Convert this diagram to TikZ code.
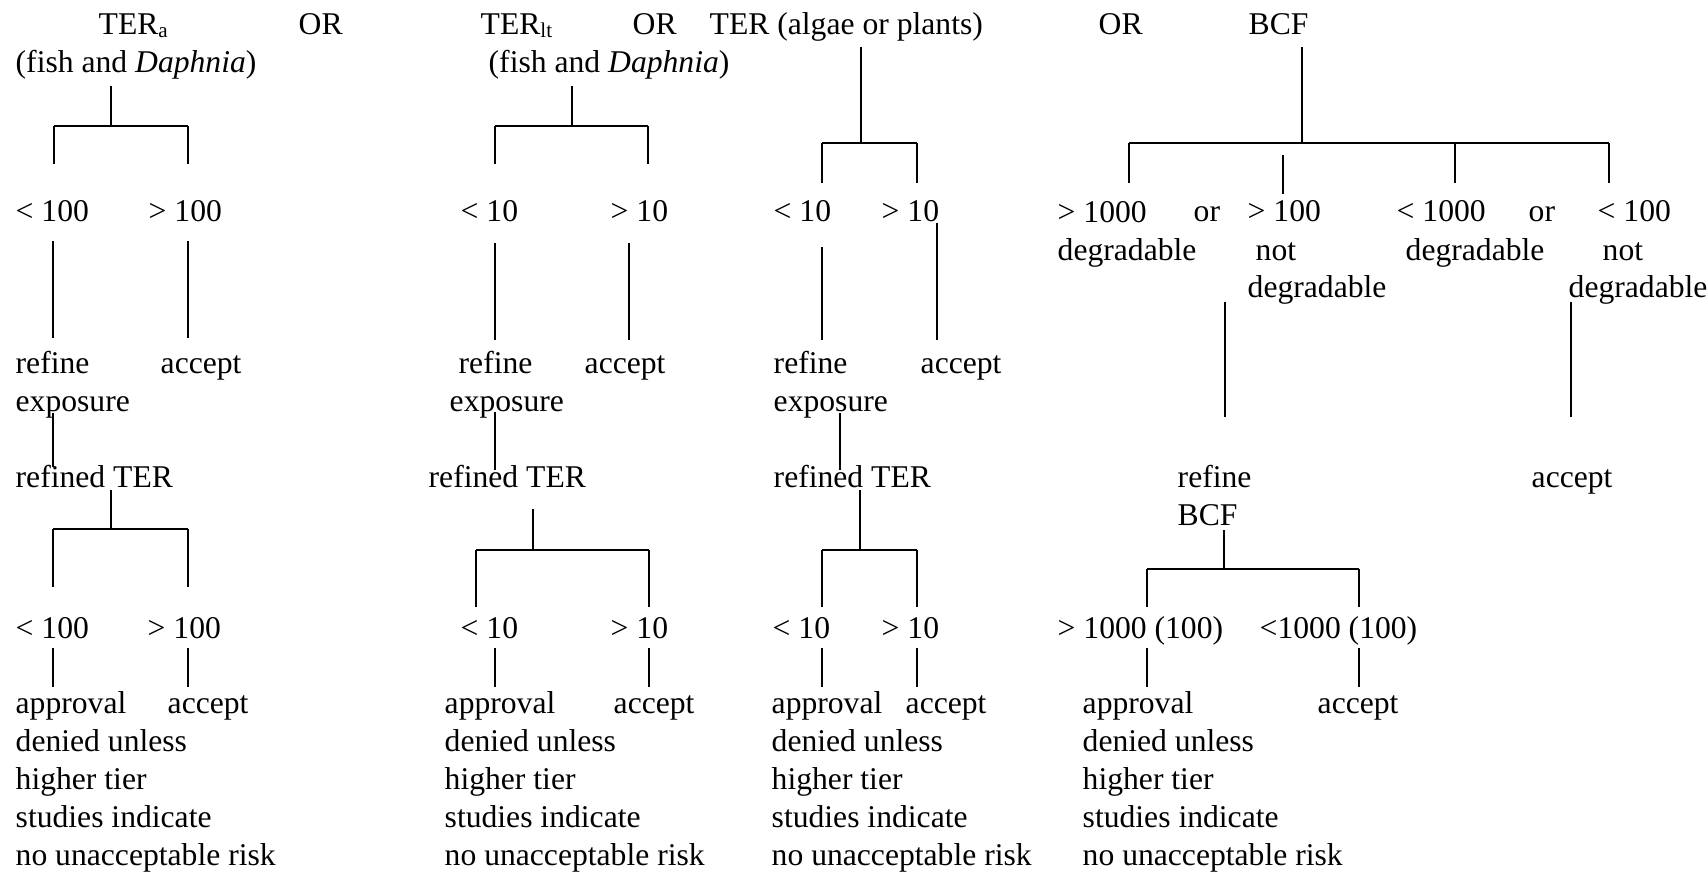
\documentclass[tikz,border=0pt]{standalone}
\usepackage{fontspec}
\setmainfont{Liberation Serif}
\usetikzlibrary{calc}

\tikzset{
  lbl/.style={anchor=base west, inner sep=0pt, align=left, font=\fontsize{9}{10.8}\selectfont},
  leg/.style={line width=0.4pt},
  bar/.style={line width=0.7pt},
}
\newcommand\deniedtext{approval\\denied unless\\higher tier\\studies indicate\\no unacceptable risk}

\begin{document}
\begin{tikzpicture}[x=0.1mm, y=-0.1mm]
\useasboundingbox (0,0) rectangle (1708,871);

% headings (multi-line nodes sit on the baseline of their last line)
\node[lbl] (terA)   at (98,34)   {TER\textsubscript{a}};
\node[lbl] (orA)    at (298,34)  {OR};
\node[lbl] (terLt)  at (480,34)  {TER\textsubscript{lt}};
\node[lbl] (orB)    at (632,34)  {OR};
\node[lbl] (terAlg) at (709,34)  {TER (algae or plants)};
\node[lbl] (orC)    at (1098,34) {OR};
\node[lbl] (bcf)    at (1248,34) {BCF};
\node[lbl] (fishA)  at (15,72)   {(fish and \textit{Daphnia})};
\node[lbl] (fishB)  at (488,72)  {(fish and \textit{Daphnia})};

% first split
\node[lbl] (ltA) at (15,221)  {< 100};
\node[lbl] (gtA) at (148,221) {> 100};
\node[lbl] (ltB) at (460,221) {< 10};
\node[lbl] (gtB) at (610,221) {> 10};
\node[lbl] (ltC) at (773,221) {< 10};
\node[lbl] (gtC) at (881,221) {> 10};
\node[lbl] (hiD)    at (1057,260) {> 1000\\degradable};
\node[lbl] (orD)    at (1193,221) {or};
\node[lbl] (hiN)    at (1247,221) {> 100};
\node[lbl] (notHi)  at (1255,260) {not};
\node[lbl] (degHi)  at (1247,297) {degradable};
\node[lbl] (loD)    at (1396,221) {< 1000};
\node[lbl] (degLo)  at (1405,260) {degradable};
\node[lbl] (orE)    at (1528,221) {or};
\node[lbl] (loN)    at (1597,221) {< 100};
\node[lbl] (notLo)  at (1602,260) {not};
\node[lbl] (degLoN) at (1568,297) {degradable};

% outcomes of the first split
\node[lbl] (refA) at (15,411)  {refine\\exposure};
\node[lbl] (accA) at (160,373) {accept};
\node[lbl] (refB) at (458,373) {refine};
\node[lbl] (expB) at (449,411) {exposure};
\node[lbl] (accB) at (584,373) {accept};
\node[lbl] (refC) at (773,411) {refine\\exposure};
\node[lbl] (accC) at (920,373) {accept};

\node[lbl] (rterA)  at (15,487)   {refined TER};
\node[lbl] (rterB)  at (428,487)  {refined TER};
\node[lbl] (rterC)  at (773,487)  {refined TER};
\node[lbl] (refBcf) at (1177,525) {refine\\BCF};
\node[lbl] (accBcf) at (1531,487) {accept};

% second split
\node[lbl] (lt2A) at (15,638)   {< 100};
\node[lbl] (gt2A) at (147,638)  {> 100};
\node[lbl] (lt2B) at (460,638)  {< 10};
\node[lbl] (gt2B) at (610,638)  {> 10};
\node[lbl] (lt2C) at (772,638)  {< 10};
\node[lbl] (gt2C) at (881,638)  {> 10};
\node[lbl] (hi2)  at (1057,638) {> 1000 (100)};
\node[lbl] (lo2)  at (1259,638) {<1000 (100)};

\node[lbl] (denA)    at (15,865)   {\deniedtext};
\node[lbl] (acc2A)   at (167,713)  {accept};
\node[lbl] (denB)    at (444,865)  {\deniedtext};
\node[lbl] (acc2B)   at (613,713)  {accept};
\node[lbl] (denC)    at (771,865)  {\deniedtext};
\node[lbl] (acc2C)   at (905,713)  {accept};
\node[lbl] (denBcf)  at (1082,865) {\deniedtext};
\node[lbl] (acc2Bcf) at (1317,713) {accept};

% forks: stem top, stem foot on the bar, left and right leg ends
\coordinate (sA) at (111,86);   \coordinate (hA) at (111,126);
\coordinate (lA) at (54,164);   \coordinate (rA) at (188,164);
\coordinate (sB) at (572,86);   \coordinate (hB) at (572,126);
\coordinate (lB) at (495,164);  \coordinate (rB) at (648,164);
\coordinate (sC) at (861,47);   \coordinate (hC) at (861,143);
\coordinate (lC) at (822,183);  \coordinate (rC) at (917,183);
\coordinate (sD) at (1302,47);  \coordinate (hD) at (1302,143);
\coordinate (lD) at (1129,183); \coordinate (rD) at (1609,183);
\coordinate (mD) at (1455,183);
\coordinate (sE) at (111,490);  \coordinate (hE) at (111,529);
\coordinate (lE) at (53,587);   \coordinate (rE) at (188,587);
\coordinate (sF) at (533,509);  \coordinate (hF) at (533,550);
\coordinate (lF) at (476,607);  \coordinate (rF) at (649,607);
\coordinate (sG) at (860,490);  \coordinate (hG) at (860,550);
\coordinate (lG) at (822,607);  \coordinate (rG) at (917,607);
\coordinate (sH) at (1224,530); \coordinate (hH) at (1224,569);
\coordinate (lH) at (1147,607); \coordinate (rH) at (1359,607);

\foreach \f in {A,B,C,D,E,F,G,H} {
  \draw[leg] (s\f) -- (h\f);
  \draw[bar] (l\f |- h\f) -- (r\f |- h\f);
  \draw[leg] (l\f) -- (l\f |- h\f) (r\f) -- (r\f |- h\f);
}
\draw[leg] (mD) -- (mD |- hD);

% single links
\coordinate (ltAd) at (53,241);    \coordinate (refAu) at (53,338);
\coordinate (gtAd) at (188,241);   \coordinate (accAu) at (188,338);
\coordinate (ltBd) at (495,243);   \coordinate (refBu) at (495,340);
\coordinate (gtBd) at (629,243);   \coordinate (accBu) at (629,340);
\coordinate (ltCd) at (822,247);   \coordinate (refCu) at (822,340);
\coordinate (gtCd) at (937,223);   \coordinate (accCu) at (937,340);
\coordinate (bcfx) at (1283,155);  \coordinate (hiNu)  at (1283,194);
\coordinate (hiNd) at (1225,302);  \coordinate (refBcfu) at (1225,417);
\coordinate (loNd) at (1571,302);  \coordinate (accBcfu) at (1571,417);
\coordinate (refAd) at (53,413);   \coordinate (rterAu) at (53,467);
\coordinate (expBd) at (495,412);  \coordinate (rterBu) at (495,470);
\coordinate (refCd) at (840,413);  \coordinate (rterCu) at (840,470);
\coordinate (lt2Ad) at (53,648);   \coordinate (denAu)   at (53,687);
\coordinate (gt2Ad) at (188,648);  \coordinate (acc2Au)  at (188,687);
\coordinate (lt2Bd) at (495,648);  \coordinate (denBu)   at (495,687);
\coordinate (gt2Bd) at (649,648);  \coordinate (acc2Bu)  at (649,687);
\coordinate (lt2Cd) at (822,648);  \coordinate (denCu)   at (822,687);
\coordinate (gt2Cd) at (917,648);  \coordinate (acc2Cu)  at (917,687);
\coordinate (hi2d)  at (1147,648); \coordinate (denBcfu) at (1147,687);
\coordinate (lo2d)  at (1359,648); \coordinate (acc2Bcfu) at (1359,687);

\foreach \a/\b in {ltAd/refAu, gtAd/accAu, ltBd/refBu, gtBd/accBu,
    ltCd/refCu, gtCd/accCu, bcfx/hiNu, hiNd/refBcfu, loNd/accBcfu,
    refAd/rterAu, expBd/rterBu, refCd/rterCu,
    lt2Ad/denAu, gt2Ad/acc2Au, lt2Bd/denBu, gt2Bd/acc2Bu,
    lt2Cd/denCu, gt2Cd/acc2Cu, hi2d/denBcfu, lo2d/acc2Bcfu}
  \draw[leg] (\a) -- (\b);

\end{tikzpicture}
\end{document}
